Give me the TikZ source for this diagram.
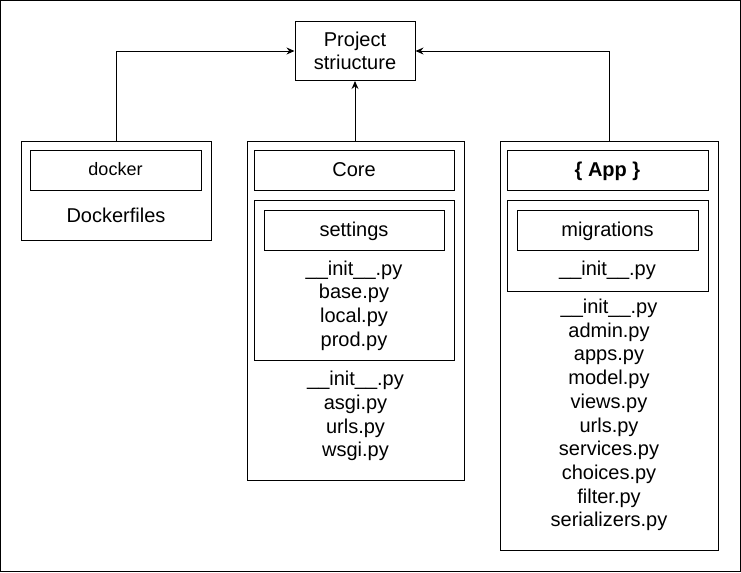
\documentclass[tikz,border=0pt]{standalone}
\usepackage{fontspec}
\setmainfont{Liberation Sans}
\usetikzlibrary{arrows.meta}
\tikzset{
  box/.style={draw=black, fill=white, line width=0.75pt, inner sep=0pt, align=center,
    font=\fontsize{15}{18}\selectfont},
  lbl/.style={text height=12pt, text depth=3pt},
  txt/.style={inner sep=0pt, align=center, font=\fontsize{15}{17.8}\selectfont},
  conn/.style={draw=black, line width=0.75pt, -{Stealth[length=6pt,width=5.2pt,inset=2pt]}},
}
\begin{document}
\begin{tikzpicture}[x=0.75pt,y=-0.75pt]
\useasboundingbox (0,0) rectangle (741,572);
\draw[line width=1pt] (0.5,0.5) rectangle (740.5,571.5);
% top
\node[box, minimum width=90pt, minimum height=44.25pt, font=\fontsize{15}{16.8}\selectfont] (proj) at (355,51) {Project\\striucture};
% docker
\node[box, minimum width=142.5pt, minimum height=74.25pt] (dockOuter) at (116,190.5) {};
\node[box, minimum width=128.25pt, minimum height=30pt, font=\fontsize{13.5}{16}\selectfont, text height=10.5pt, text depth=3pt] (dockIn) at (115.5,170) {docker};
\node[txt] (dockFiles) at (116,215) {Dockerfiles};
% core
\node[box, minimum width=162.75pt, minimum height=254.25pt] (coreOuter) at (355.5,310.5) {};
\node[box, lbl, minimum width=150pt, minimum height=30pt] (coreIn) at (354,170) {Core};
\node[box, minimum width=150pt, minimum height=120pt] (setGroup) at (354,280) {};
\node[box, lbl, minimum width=135pt, minimum height=30pt] (setIn) at (354,230) {settings};
\node[txt] (setFiles) at (354,305.5) {\_\_init\_\_.py\\base.py\\local.py\\prod.py};
\node[txt] (coreFiles) at (355.5,416) {\_\_init\_\_.py\\asgi.py\\urls.py\\wsgi.py};
% app
\node[box, minimum width=163.5pt, minimum height=306.75pt] (appOuter) at (609,345.5) {};
\node[box, lbl, minimum width=150.75pt, minimum height=30pt, font=\fontsize{15}{18}\selectfont\bfseries] (appIn) at (607.5,170) {\{ App \}};
\node[box, minimum width=150.75pt, minimum height=68.25pt] (migGroup) at (607.5,245.5) {};
\node[box, lbl, minimum width=135.75pt, minimum height=30pt] (migIn) at (607.5,230) {migrations};
\node[txt] (migInit) at (607.5,270) {\_\_init\_\_.py};
\node[txt] (appFiles) at (609,415) {\_\_init\_\_.py\\admin.py\\apps.py\\model.py\\views.py\\urls.py\\services.py\\choices.py\\filter.py\\serializers.py};
% connectors
\draw[conn] (dockOuter.north) |- (proj.west);
\draw[conn] (coreOuter.north -| proj.south) -- (proj.south);
\draw[conn] (appOuter.north) |- (proj.east);
\end{tikzpicture}
\end{document}
